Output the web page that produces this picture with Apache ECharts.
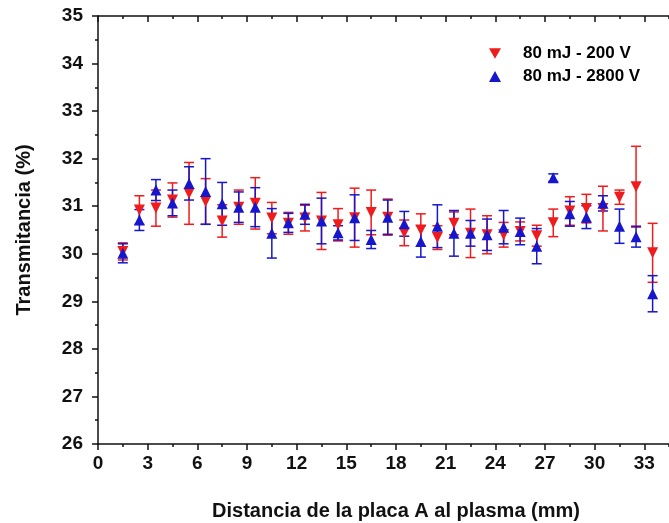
<!DOCTYPE html>
<html>
<head>
<meta charset="utf-8">
<script src="https://cdn.jsdelivr.net/npm/echarts@6/dist/echarts.min.js"></script>
<style>
  html, body { margin: 0; padding: 0; background: #fff; }
  #chart { width: 669px; height: 523px; }
</style>
</head>
<body>
<div id="chart"></div>
<script>
// distancia (mm)
const distancia = [1.5, 2.5, 3.5, 4.5, 5.5, 6.5, 7.5, 8.5, 9.5, 10.5, 11.5, 12.5, 13.5, 14.5, 15.5, 16.5,
  17.5, 18.5, 19.5, 20.5, 21.5, 22.5, 23.5, 24.5, 25.5, 26.5, 27.5, 28.5, 29.5, 30.5, 31.5, 32.5, 33.5];

// 80 mJ - 200 V
const trans200 = [30.05, 30.92, 30.96, 31.13, 31.27, 31.10, 30.69, 30.98, 31.06, 30.75, 30.64, 30.75, 30.69, 30.61, 30.76, 30.87,
  30.77, 30.44, 30.50, 30.34, 30.64, 30.43, 30.40, 30.40, 30.47, 30.38, 30.65, 30.90, 30.95, 30.95, 31.19, 31.41, 30.02];
const err200 = [0.18, 0.30, 0.38, 0.36, 0.65, 0.48, 0.34, 0.36, 0.54, 0.33, 0.23, 0.27, 0.60, 0.34, 0.62, 0.47,
  0.38, 0.27, 0.34, 0.25, 0.24, 0.51, 0.40, 0.26, 0.20, 0.22, 0.29, 0.30, 0.30, 0.47, 0.15, 0.85, 0.62];

// 80 mJ - 2800 V
const trans2800 = [30.01, 30.71, 31.34, 31.07, 31.48, 31.31, 31.05, 30.98, 30.98, 30.43, 30.65, 30.83, 30.69, 30.44, 30.76, 30.30,
  30.77, 30.63, 30.26, 30.58, 30.43, 30.43, 30.40, 30.56, 30.47, 30.16, 31.60, 30.84, 30.77, 31.06, 30.58, 30.36, 29.16];
const err2800 = [0.20, 0.22, 0.22, 0.27, 0.35, 0.69, 0.45, 0.32, 0.41, 0.52, 0.20, 0.21, 0.48, 0.15, 0.48, 0.19,
  0.36, 0.26, 0.33, 0.45, 0.48, 0.27, 0.33, 0.35, 0.28, 0.37, 0.08, 0.26, 0.24, 0.16, 0.36, 0.22, 0.38];

const rojo = '#ee1c1c';
const azul = '#1616cc';
const fuente = '"Liberation Sans", Arial, sans-serif';
const trianguloAbajo = 'path://M0,0 L10,0 L5,8.66 Z';

function barras(valores, errores) {
  return distancia.map((x, i) => [x, valores[i] - errores[i], valores[i] + errores[i]]);
}

function errorSeries(nombre, datos, color) {
  return {
    name: nombre,
    type: 'custom',
    data: datos,
    z: 2,
    renderItem: function (params, api) {
      const x = api.value(0);
      const lo = api.coord([x, api.value(1)]);
      const hi = api.coord([x, api.value(2)]);
      const w = 5;
      const style = { stroke: color, lineWidth: 1.5 };
      return {
        type: 'group',
        children: [
          { type: 'line', shape: { x1: lo[0], y1: lo[1], x2: hi[0], y2: hi[1] }, style: style },
          { type: 'line', shape: { x1: lo[0] - w, y1: lo[1], x2: lo[0] + w, y2: lo[1] }, style: style },
          { type: 'line', shape: { x1: hi[0] - w, y1: hi[1], x2: hi[0] + w, y2: hi[1] }, style: style }
        ]
      };
    }
  };
}

const chart = echarts.init(document.getElementById('chart'));

const ejeNegro = { lineStyle: { color: '#111', width: 1.5 } };

const option = {
  animation: false,
  backgroundColor: '#fff',
  grid: { left: 98, top: 16, width: 596, height: 428, outerBoundsMode: 'none', containLabel: false },
  legend: {
    orient: 'vertical',
    left: 484,
    top: 40,
    itemWidth: 12,
    itemHeight: 11,
    itemGap: 6,
    data: [
      { name: '80 mJ - 200 V', icon: trianguloAbajo },
      { name: '80 mJ - 2800 V', icon: 'triangle' }
    ],
    textStyle: { fontFamily: fuente, fontWeight: 'bold', fontSize: 17, color: '#000', lineHeight: 17, padding: [0, 0, 0, 17] }
  },
  xAxis: [
    {
      type: 'value',
      min: 0, max: 36, interval: 3,
      name: 'Distancia de la placa A al plasma (mm)',
      nameLocation: 'middle',
      nameGap: 57,
      nameTextStyle: { fontFamily: fuente, fontWeight: 'bold', fontSize: 20, color: '#111' },
      axisLine: ejeNegro,
      axisTick: { inside: false, length: 6, lineStyle: { color: '#111', width: 1.5 } },
      minorTick: { show: true, splitNumber: 2, length: 3, lineStyle: { color: '#111', width: 1.5 } },
      axisLabel: { margin: 10, fontFamily: fuente, fontWeight: 'bold', fontSize: 19, color: '#111' },
      splitLine: { show: false }
    },
    {
      type: 'value',
      position: 'top',
      min: 0, max: 36, interval: 3,
      axisLine: ejeNegro,
      axisTick: { inside: true, length: 6, lineStyle: { color: '#111', width: 1.5 } },
      minorTick: { show: true, splitNumber: 2, length: 3, lineStyle: { color: '#111', width: 1.5 } },
      axisLabel: { show: false },
      splitLine: { show: false }
    }
  ],
  yAxis: {
    type: 'value',
    min: 26, max: 35, interval: 1,
    name: 'Transmitancia (%)',
    nameLocation: 'middle',
    nameGap: 64,
    nameTextStyle: { fontFamily: fuente, fontWeight: 'bold', fontSize: 20, color: '#111' },
    axisLine: ejeNegro,
    axisTick: { inside: false, length: 6, lineStyle: { color: '#111', width: 1.5 } },
    minorTick: { show: true, splitNumber: 2, length: 3, lineStyle: { color: '#111', width: 1.5 } },
    axisLabel: { margin: 15, fontFamily: fuente, fontWeight: 'bold', fontSize: 19, color: '#111' },
    splitLine: { show: false }
  },
  series: [
    errorSeries('err200', barras(trans200, err200), rojo),
    {
      name: '80 mJ - 200 V',
      type: 'scatter',
      symbol: 'triangle',
      symbolRotate: 180,
      symbolSize: 11,
      z: 3,
      itemStyle: { color: rojo, opacity: 1 },
      data: distancia.map((x, i) => [x, trans200[i]])
    },
    errorSeries('err2800', barras(trans2800, err2800), azul),
    {
      name: '80 mJ - 2800 V',
      type: 'scatter',
      symbol: 'triangle',
      symbolSize: 11,
      z: 4,
      itemStyle: { color: azul, opacity: 1 },
      data: distancia.map((x, i) => [x, trans2800[i]])
    }
  ]
};

chart.setOption(option);
</script>
</body>
</html>
